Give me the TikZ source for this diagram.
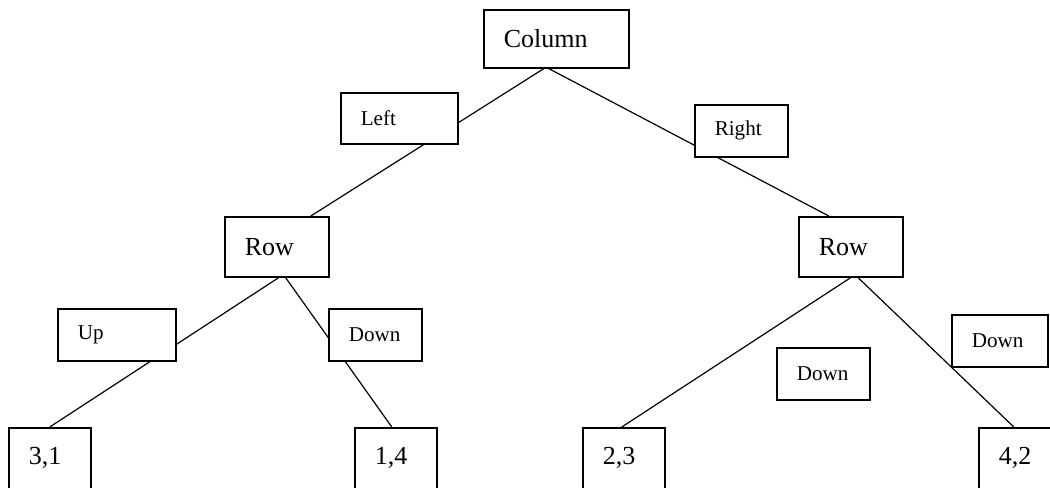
\documentclass[tikz,border=0pt]{standalone}
\usepackage{fontspec}
\setmainfont{Liberation Serif}
\begin{document}
\begin{tikzpicture}[x=0.025cm,y=-0.025cm]
	\tikzset{tbox/.style={draw, fill=white, line width=1.1pt, anchor=north west, align=left, inner xsep=0.5cm, inner ysep=0pt, text width=#1},
		big/.style={font=\fontsize{18.5}{22}\selectfont},
		sml/.style={font=\fontsize{15}{18}\selectfont},
		edge/.style={line width=0.85pt}}
	\useasboundingbox (0,0) rectangle (1050,487);
	\node[tbox=2.625cm, big, minimum height=1.45cm] (col)  at (483,9)   {Column};
	\node[tbox=1.6cm,   big, minimum height=1.5cm]  (rowL) at (224,216) {Row};
	\node[tbox=1.6cm,   big, minimum height=1.5cm]  (rowR) at (798,216) {Row};
	\node[tbox=1.05cm,  big, minimum height=1.52cm] (l31)  at (8,427)   {3,1};
	\node[tbox=1.05cm,  big, minimum height=1.52cm] (l14)  at (354,427) {1,4};
	\node[tbox=1.05cm,  big, minimum height=1.52cm] (l23)  at (582,427) {2,3};
	\node[tbox=1.05cm,  big, minimum height=1.52cm] (l42)  at (978,427) {4,2};
	\draw[edge] ([xshift=-0.31cm]col.south) -- ([xshift=0.85cm]rowL.north);
	\draw[edge] ([xshift=-0.19cm]col.south) -- ([xshift=-0.55cm]rowR.north);
	\draw[edge] ([xshift=0.05cm]rowL.south) -- (l31.north);
	\draw[edge] ([xshift=0.22cm]rowL.south) -- ([xshift=-0.1cm]l14.north);
	\draw[edge] (rowR.south) -- ([xshift=-0.05cm]l23.north);
	\draw[edge] ([xshift=0.18cm]rowR.south) -- ([xshift=-0.15cm]l42.north);
	\node[tbox=1.925cm, sml, minimum height=1.275cm] (lft) at (340,92)  {Left};
	\node[tbox=1.325cm, sml, minimum height=1.3cm]   (rgt) at (694,104) {Right};
	\node[tbox=1.95cm,  sml, minimum height=1.3cm]   (up)  at (57,308)  {Up};
	\node[tbox=1.325cm, sml, minimum height=1.3cm]   (dnL) at (328,308) {Down};
	\node[tbox=1.325cm, sml, minimum height=1.3cm]   (dnM) at (776,347) {Down};
	\node[tbox=1.4cm,   sml, minimum height=1.3cm]   (dnR) at (951,314) {Down};
\end{tikzpicture}
\end{document}
